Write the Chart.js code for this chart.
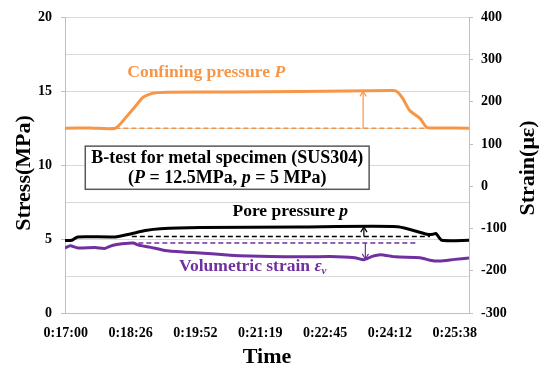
<!DOCTYPE html>
<html>
<head>
<meta charset="utf-8">
<script src="https://cdn.jsdelivr.net/npm/chart.js@4/dist/chart.umd.min.js"></script>
<style>html,body{margin:0;padding:0;background:#fff}</style>
</head>
<body>
<canvas id="bChart" width="545" height="369" style="width:545px;height:369px"></canvas>
<script>
// time axis (seconds), Excel-style labels every 86.33 s
const timeTicks = [1020, 1106.33, 1192.67, 1279, 1365.33, 1451.67, 1538];
const timeLabels = ['0:17:00', '0:18:26', '0:19:52', '0:21:19', '0:22:45', '0:24:12', '0:25:38'];

// confining pressure P (MPa)
const confTime = [1019, 1052, 1086, 1102, 1112, 1123, 1136, 1155, 1239, 1332, 1456, 1462, 1469, 1478, 1492, 1501, 1518, 1557];
const confP = [12.5, 12.52, 12.5, 13.35, 13.94, 14.6, 14.87, 14.94, 14.95, 14.98, 15.05, 14.95, 14.5, 13.7, 13.15, 12.55, 12.52, 12.5];

// pore pressure p (MPa)
const poreTime = [1019, 1028, 1036, 1086, 1106, 1126, 1146, 1199, 1332, 1462, 1501, 1509, 1513, 1521, 1557];
const poreP = [4.9, 4.92, 5.15, 5.15, 5.35, 5.58, 5.7, 5.78, 5.82, 5.84, 5.33, 5.33, 5.38, 4.92, 4.92];

// volumetric strain (micro strain)
const strainTime = [1019, 1026, 1036, 1059, 1072, 1082, 1095, 1110, 1115, 1122, 1132, 1152, 1179, 1199, 1239, 1265, 1292, 1332, 1372, 1405, 1417, 1428, 1439, 1459, 1492, 1505, 1518, 1538, 1557];
const strainV = [-146, -141, -146, -145, -147, -140, -136, -134, -138, -141, -144, -152, -156, -158, -163, -165, -166, -167, -166, -169, -174, -166, -162, -167, -169, -175, -177, -173, -170];

// reference levels and increments
const confBase = 12.5, poreBase = 5.17, strainBase = -134;
const confRefTime = [1086, 1557];
const poreRefTime = [1108, 1505];
const strainRefTime = [1106, 1489];
const arrowTime = [1416, 1417, 1419];
const arrowTop = [15.0, 5.82, -172];

const FONT = '"Liberation Serif", "Times New Roman", serif';
const ORANGE = '#F79646', PURPLE = '#7030A0';

function pts(xs, ys) { return xs.map((t, i) => ({ x: t, y: ys[i] })); }

function rich(c, parts, cx, cy, size, color) {
  const fonts = parts.map(p => (p.it ? 'italic ' : '') + 'bold ' + (p.size || size) + 'px ' + FONT);
  let w = 0;
  parts.forEach((p, i) => { c.font = fonts[i]; w += c.measureText(p.t).width; });
  let xx = cx - w / 2;
  c.fillStyle = color; c.textBaseline = 'middle'; c.textAlign = 'left';
  parts.forEach((p, i) => {
    c.font = fonts[i];
    c.fillText(p.t, xx, cy + (p.dy || 0));
    xx += c.measureText(p.t).width;
  });
}

const overlay = {
  id: 'overlay',
  afterDatasetsDraw(chart) {
    const c = chart.ctx, x = chart.scales.x, yL = chart.scales.yL;
    // arrow heads
    chart.data.datasets.forEach((ds, i) => {
      if (!ds.arrow) return;
      const d = chart.getDatasetMeta(i).data;
      const a = d[0], b = d[d.length - 1];
      const ang = Math.atan2(b.y - a.y, b.x - a.x);
      c.save();
      c.strokeStyle = ds.borderColor; c.lineWidth = 1.2;
      c.beginPath();
      c.moveTo(b.x - 6 * Math.cos(ang - 0.55), b.y - 6 * Math.sin(ang - 0.55));
      c.lineTo(b.x, b.y);
      c.lineTo(b.x - 6 * Math.cos(ang + 0.55), b.y - 6 * Math.sin(ang + 0.55));
      c.stroke();
      c.restore();
    });
    c.save();
    // title box
    const bx1 = x.getPixelForValue(1046), bx2 = x.getPixelForValue(1424);
    const by1 = yL.getPixelForValue(11.29), by2 = yL.getPixelForValue(8.37);
    c.fillStyle = '#fff';
    c.fillRect(bx1, by1, bx2 - bx1, by2 - by1);
    c.strokeStyle = '#595959'; c.lineWidth = 1.5;
    c.strokeRect(bx1, by1, bx2 - bx1, by2 - by1);
    const bcx = (bx1 + bx2) / 2;
    rich(c, [{ t: 'B-test for metal specimen (SUS304)' }], bcx, yL.getPixelForValue(10.49), 18, '#000');
    rich(c, [{ t: '(' }, { t: 'P', it: true }, { t: ' = 12.5MPa, ' }, { t: 'p', it: true }, { t: ' = 5 MPa)' }],
      bcx, yL.getPixelForValue(9.1), 18, '#000');
    // series labels
    rich(c, [{ t: 'Confining pressure ' }, { t: 'P', it: true }], x.getPixelForValue(1207), yL.getPixelForValue(16.27), 17.5, ORANGE);
    rich(c, [{ t: 'Pore pressure ' }, { t: 'p', it: true }], x.getPixelForValue(1319), yL.getPixelForValue(6.84), 17.5, '#000');
    rich(c, [{ t: 'Volumetric strain ' }, { t: '\u03b5', it: true }, { t: 'v', it: true, size: 11, dy: 4 }],
      x.getPixelForValue(1269), yL.getPixelForValue(3.12), 17.5, PURPLE);
    // axis titles
    c.fillStyle = '#000'; c.textAlign = 'center'; c.textBaseline = 'middle';
    c.font = 'bold 22px ' + FONT;
    c.fillText('Time', 267, 357);
    c.save(); c.translate(24, 173); c.rotate(-Math.PI / 2); c.fillText('Stress(MPa)', 0, 0); c.restore();
    c.save(); c.translate(528, 168); c.rotate(-Math.PI / 2); c.fillText('Strain(\u03bc\u03b5)', 0, 0); c.restore();
    c.restore();
  }
};

const tickFont = { family: FONT, size: 14, weight: 'bold' };
const line = (data, color, axis, extra) => Object.assign({
  data, borderColor: color, backgroundColor: color, yAxisID: axis,
  borderWidth: 3, pointRadius: 0, tension: 0.2, fill: false
}, extra || {});
const dashed = { borderWidth: 1.5, borderDash: [5, 3], tension: 0 };
const arrow = { borderWidth: 1.2, tension: 0, arrow: true };

new Chart(document.getElementById('bChart').getContext('2d'), {
  type: 'line',
  data: {
    datasets: [
      line(pts(confTime, confP), ORANGE, 'yL'),
      line(pts(poreTime, poreP), '#000', 'yL'),
      line(pts(strainTime, strainV), PURPLE, 'yR'),
      line(pts(confRefTime, [confBase, confBase]), ORANGE, 'yL', dashed),
      line(pts(poreRefTime, [poreBase, poreBase]), '#000', 'yL', dashed),
      line(pts(strainRefTime, [strainBase, strainBase]), PURPLE, 'yR', dashed),
      line(pts([arrowTime[0], arrowTime[0]], [confBase, arrowTop[0]]), ORANGE, 'yL', arrow),
      line(pts([arrowTime[1], arrowTime[1]], [poreBase, arrowTop[1]]), '#000', 'yL', arrow),
      line(pts([arrowTime[2], arrowTime[2]], [strainBase, arrowTop[2]]), PURPLE, 'yR', arrow)
    ]
  },
  options: {
    responsive: false,
    animation: false,
    layout: { autoPadding: false, padding: { top: 12, left: 0, right: 0, bottom: 0 } },
    plugins: { legend: { display: false }, tooltip: { enabled: false } },
    scales: {
      x: {
        type: 'linear', min: 1019, max: 1557,
        afterBuildTicks: s => { s.ticks = timeTicks.map(v => ({ value: v })); },
        afterFit: s => { s.height = 56; },
        ticks: { callback: (v, i) => timeLabels[i], autoSkip: false, maxRotation: 0, padding: 12, color: '#000', font: tickFont },
        grid: { drawOnChartArea: false, drawTicks: false },
        border: { color: '#BFBFBF' }
      },
      yL: {
        position: 'left', min: 0, max: 20,
        afterFit: s => { s.width = 65; },
        ticks: { stepSize: 2.5, padding: 9, color: '#000', font: tickFont, callback: v => (v % 5 === 0 ? v : '') },
        grid: { color: '#D9D9D9', tickLength: 4, tickColor: c => (c.tick && c.tick.value % 5 === 0 ? '#BFBFBF' : 'rgba(0,0,0,0)') },
        border: { color: '#BFBFBF' }
      },
      yR: {
        position: 'right', min: -300, max: 400,
        afterFit: s => { s.width = 76; },
        ticks: { stepSize: 100, padding: 8, color: '#000', font: tickFont },
        grid: { drawOnChartArea: false, tickLength: 4, tickColor: '#BFBFBF' },
        border: { color: '#BFBFBF' }
      }
    }
  },
  plugins: [overlay]
});
</script>
</body>
</html>
